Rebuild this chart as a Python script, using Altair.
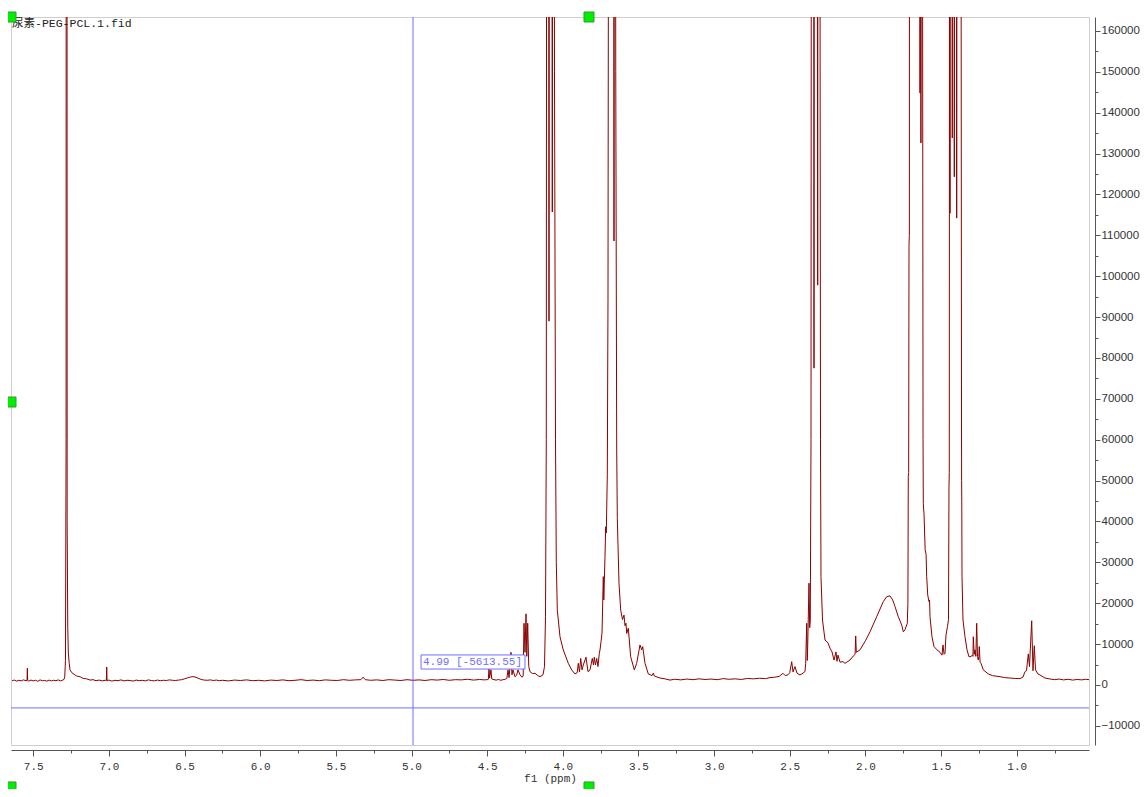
import altair as alt
import pandas as pd

# ---------------- values ----------------
title_text = "尿素-PEG-PCL.1.fid"
axis_title = "f1 (ppm)"

# spectrum: chemical shift (ppm) and intensity, region by region
ppm_left = [7.640, 7.625, 7.610, 7.595, 7.580, 7.565, 7.548, 7.541, 7.539, 7.537,
            7.530, 7.515, 7.500, 7.485, 7.470, 7.455, 7.440, 7.425, 7.410, 7.395,
            7.380, 7.365, 7.350, 7.335, 7.320, 7.305, 7.297, 7.292, 7.287, 7.283,
            7.280, 7.276, 7.272, 7.268, 7.262, 7.257, 7.245, 7.230, 7.213, 7.190,
            7.170, 7.147, 7.125, 7.105, 7.085, 7.065, 7.045, 7.025, 7.017, 7.0145,
            7.012, 7.000, 6.980, 6.960, 6.940, 6.920, 6.900, 6.880, 6.860, 6.840,
            6.820, 6.800, 6.780, 6.760, 6.740, 6.720, 6.700, 6.680, 6.660, 6.640,
            6.620, 6.600, 6.580, 6.560, 6.540, 6.520, 6.500, 6.480, 6.460, 6.445,
            6.430, 6.410, 6.390, 6.370, 6.350, 6.330, 6.310, 6.290, 6.270, 6.250]
int_left = [1050, 1200, 950, 1150, 1000, 1250, 1050, 1150, 4100, 1100,
            950, 1200, 1000, 1150, 900, 1250, 1050, 1100, 950, 1200,
            1000, 1150, 1050, 1250, 1000, 1200, 1350, 2000, 6000, 60000,
            900000, 40000, 14000, 7800, 5200, 3700, 3000, 2600, 2200, 2000,
            1600, 1500, 1200, 1300, 1050, 1200, 1000, 1150, 1100, 4400,
            1050, 1200, 950, 1150, 1050, 1250, 1000, 1150, 1100, 950,
            1200, 1050, 1150, 1000, 1250, 1100, 1000, 1200, 1050, 1150,
            1100, 1250, 1150, 1100, 1200, 1300, 1500, 1750, 1950, 2050,
            1950, 1650, 1350, 1200, 1150, 1250, 1100, 1200, 1050, 1150]

ppm_mid = [6.21, 6.17, 6.13, 6.09, 6.05, 6.01, 5.97, 5.93, 5.89, 5.85,
           5.81, 5.77, 5.73, 5.69, 5.65, 5.61, 5.57, 5.53, 5.49, 5.45,
           5.41, 5.37, 5.335, 5.32, 5.305, 5.27, 5.23, 5.19, 5.15, 5.11,
           5.07, 5.03, 4.99, 4.95, 4.91, 4.87, 4.83, 4.79, 4.75, 4.71,
           4.67, 4.63, 4.59, 4.55, 4.52, 4.50]
int_mid = [1000, 1200, 1100, 1250, 1050, 1150, 1000, 1200, 1100, 1250,
           1050, 1150, 1300, 1100, 1200, 1050, 1250, 1150, 1100, 1300,
           1150, 1250, 1300, 1900, 1300, 1150, 1250, 1100, 1300, 1200,
           1100, 1300, 1150, 1250, 1100, 1300, 1200, 1350, 1150, 1300,
           1250, 1400, 1200, 1350, 1250, 1300]

ppm_pcl = [4.492, 4.4878, 4.484, 4.4746, 4.470, 4.455, 4.440, 4.425, 4.410, 4.395,
           4.380, 4.370, 4.3622, 4.355, 4.3424, 4.336, 4.3291, 4.3159, 4.305, 4.2961,
           4.2829, 4.2697, 4.262, 4.2564, 4.2498, 4.2432, 4.2380, 4.2320, 4.2250, 4.2168,
           4.200, 4.1837, 4.1650, 4.1507, 4.1309, 4.1210, 4.1143, 4.1091, 4.1044, 4.0960,
           4.0912, 4.0860, 4.0760, 4.0694, 4.0640, 4.0580, 4.0549, 4.0482, 4.0430, 4.0363,
           4.0185, 3.9967, 3.9636, 3.9412, 3.9194, 3.9050, 3.8975, 3.8896, 3.8817, 3.8731,
           3.8645, 3.8467, 3.8334, 3.8202, 3.8050, 3.7971, 3.7918, 3.7839, 3.7759, 3.7674,
           3.7588, 3.7541, 3.7475, 3.7409, 3.7323, 3.7290, 3.7211, 3.7164, 3.7125, 3.7059,
           3.7013, 3.6946, 3.6880, 3.6748, 3.6660, 3.6616, 3.6580, 3.6500, 3.6437, 3.6398,
           3.6286, 3.6173, 3.6054, 3.5955, 3.5889, 3.5823, 3.5777, 3.5671, 3.5513, 3.5274,
           3.5116, 3.4898, 3.4785, 3.4719, 3.4567, 3.4349, 3.4100, 3.4018, 3.3950, 3.3576,
           3.3250, 3.2915]
int_pcl = [1400, 4000, 1700, 3700, 1500, 1300, 1200, 1350, 1150, 1300,
           1400, 1600, 3700, 1800, 8000, 2500, 3700, 2000, 2400, 3700,
           2500, 1900, 2200, 15100, 8000, 17400, 7000, 15100, 4500, 3250,
           2800, 2860, 2300, 2030, 2500, 4500, 16700, 60000, 400000, 400000,
           89000, 400000, 400000, 115700, 400000, 250000, 150000, 60000, 30000, 18300,
           11800, 8560, 5300, 3670, 2700, 3000, 5300, 3200, 6500, 3700,
           4900, 6800, 3250, 3700, 6500, 4900, 6800, 4900, 6500, 4500,
           7750, 8560, 10600, 12700, 26500, 20800, 31400, 38700, 37200, 51400,
           94000, 300000, 600000, 700000, 500000, 108600, 400000, 150000, 57500, 40900,
           24900, 18300, 16000, 17100, 14500, 15100, 12600, 13900, 6900, 3700,
           5300, 9800, 8600, 9400, 5300, 2700, 2300, 2900, 2200, 1700,
           1500, 1200]

ppm_ch2 = [3.26, 3.22, 3.18, 3.14, 3.10, 3.06, 3.02, 2.98, 2.94, 2.90,
           2.86, 2.82, 2.78, 2.74, 2.70, 2.66, 2.6305, 2.60, 2.57, 2.5446,
           2.53, 2.5116, 2.500, 2.4871, 2.4785, 2.4653, 2.4521, 2.4322, 2.4124, 2.3992,
           2.3946, 2.3880, 2.3840, 2.3814, 2.3728, 2.3681, 2.3642, 2.3595, 2.3529, 2.3440,
           2.3397, 2.3350, 2.3265, 2.3153, 2.3100, 2.3030, 2.2968, 2.2935, 2.2835, 2.2670,
           2.2472, 2.2340, 2.2207, 2.2075, 2.1943, 2.1877, 2.1811, 2.1679, 2.1480, 2.1348,
           2.1018, 2.0800, 2.0680, 2.0641, 2.0600, 2.0357, 2.0000, 1.9696, 1.9253, 1.8817,
           1.8592, 1.8374, 1.8196, 1.8043, 1.7826, 1.7601, 1.7495, 1.7383, 1.7231]
int_ch2 = [1400, 1250, 1450, 1300, 1500, 1350, 1450, 1300, 1550, 1400,
           1500, 1350, 1600, 1500, 1650, 1550, 1800, 1900, 2100, 2860,
           2300, 2500, 3000, 5700, 3200, 4500, 2900, 2450, 2900, 3300,
           5300, 15100, 6000, 9400, 24900, 14000, 15900, 60000, 500000, 500000,
           77500, 500000, 500000, 97800, 500000, 300000, 60000, 26500, 15900, 11000,
           10300, 9000, 8100, 6100, 8100, 5800, 7300, 5600, 5700, 5300,
           6100, 7100, 7500, 12000, 8000, 8600, 10800, 13000, 16700, 20400,
           21600, 21800, 20800, 19200, 16700, 14700, 13000, 13500, 15100]

ppm_right = [1.7190, 1.7165, 1.7140, 1.7118, 1.7095, 1.7060, 1.6900, 1.6700, 1.6500, 1.6420,
             1.6391, 1.6365, 1.6330, 1.6290, 1.6226, 1.6190, 1.6173, 1.6150, 1.6127, 1.6050,
             1.5990, 1.5949, 1.5880, 1.5796, 1.5760, 1.5730, 1.5598, 1.5466, 1.5268, 1.5069,
             1.4937, 1.4871, 1.4800, 1.4739, 1.4673, 1.4574, 1.4508, 1.4475, 1.4455, 1.4430,
             1.4408, 1.4370, 1.4300, 1.4257, 1.4220, 1.4160, 1.4124, 1.4080, 1.4000, 1.3966,
             1.3920, 1.3780, 1.3700, 1.3650, 1.3640, 1.3630, 1.3615, 1.3549, 1.3417, 1.3285,
             1.3153, 1.3021, 1.2921, 1.2890, 1.2868, 1.2810, 1.2756, 1.2700, 1.2644, 1.2590,
             1.2538, 1.2500, 1.2472, 1.2420, 1.2359, 1.2207, 1.1877, 1.1600, 1.1104, 1.0800,
             1.0443, 1.0100, 0.9782, 0.9584, 0.9451, 0.9352, 0.9233, 0.9154, 0.9008, 0.8923,
             0.8837, 0.8757, 0.8600, 0.8460, 0.8129, 0.7799, 0.7500, 0.7200, 0.6900, 0.6600,
             0.6300, 0.6000, 0.5700, 0.5450, 0.5221]
int_right = [20000, 51000, 52000, 107600, 110000, 500000, 400000, 300000, 400000, 500000,
             144800, 400000, 132600, 450000, 200000, 60000, 44400, 43000, 42000, 33000,
             32000, 26500, 22000, 20400, 20800, 16700, 11800, 9400, 8600, 8000,
             7300, 9800, 7500, 7750, 12200, 14300, 16000, 48400, 52000, 300000,
             115400, 400000, 400000, 133800, 400000, 400000, 124300, 400000, 400000, 114200,
             400000, 300000, 300000, 73400, 50000, 44800, 26500, 15900, 11800, 8600,
             6900, 7000, 7300, 7000, 11800, 7500, 8600, 7000, 15100, 7000,
             6100, 7000, 9400, 5600, 5300, 3700, 2700, 2300, 2030, 1800,
             1700, 1600, 1550, 1950, 3250, 3500, 7600, 4500, 15700, 3500,
             9600, 3700, 2700, 2450, 1700, 1470, 1300, 1450, 1250, 1400,
             1200, 1350, 1250, 1400, 1300]

# axes
x_domain = [0.5221, 7.6471]
y_domain = [-14680, 163400]
x_major = [7.5, 7.0, 6.5, 6.0, 5.5, 5.0, 4.5, 4.0, 3.5, 3.0, 2.5, 2.0, 1.5, 1.0]
x_minor = [7.25, 6.75, 6.25, 5.75, 5.25, 4.75, 4.25, 3.75, 3.25, 2.75, 2.25, 1.75, 1.25, 0.75]
y_major = [-10000, 0, 10000, 20000, 30000, 40000, 50000, 60000, 70000, 80000, 90000,
           100000, 110000, 120000, 130000, 140000, 150000, 160000]
y_minor = [-5000, 5000, 15000, 25000, 35000, 45000, 55000, 65000, 75000, 85000, 95000,
           105000, 115000, 125000, 135000, 145000, 155000]

# cursor read-out
cursor_ppm = [4.99]
cursor_value = [-5613.55]
cursor_label = ["4.99 [-5613.55]"]
label_ppm = [4.924]
label_value = [5600]
label_box_ppm = [4.937, 4.250]
label_box_value = [3900, 7350]

# green selection handles
handle_ppm = [7.6471, 3.8268, 7.6471, 7.6471, 3.8268]
handle_value = [163400, 163400, 69220, -24950, -24950]

# ---------------- build the chart ----------------
spec = pd.DataFrame({
    "ppm": ppm_left + ppm_mid + ppm_pcl + ppm_ch2 + ppm_right,
    "intensity": int_left + int_mid + int_pcl + int_ch2 + int_right,
})
cursor = pd.DataFrame({"ppm": cursor_ppm, "intensity": cursor_value})
label = pd.DataFrame({"ppm": label_ppm, "intensity": label_value, "text": cursor_label})
box = pd.DataFrame({"ppm": [label_box_ppm[0]], "ppm2": [label_box_ppm[1]],
                    "intensity": [label_box_value[0]], "intensity2": [label_box_value[1]]})
handles = pd.DataFrame({"ppm": handle_ppm, "intensity": handle_value})

MONO = "'Liberation Mono', 'Noto Sans CJK SC'"
SANS = "'Liberation Sans'"
DARK = "#8b0000"
BLUE = "#6f6fff"
AXC = "#555555"

xs = alt.Scale(domain=x_domain, reverse=True, nice=False, zero=False)
ys = alt.Scale(domain=y_domain, nice=False, zero=False)

x_main_axis = alt.Axis(values=x_major, format=".1f", orient="bottom", offset=5,
                       tickSize=6, tickColor=AXC, domainColor=AXC, grid=False,
                       labelFont=MONO, labelFontSize=11, labelColor="#333333",
                       labelPadding=4, labelFlush=False,
                       title=axis_title, titleFont=MONO, titleFontSize=11,
                       titleFontWeight="normal", titleColor="#333333", titlePadding=1)
y_main_axis = alt.Axis(values=y_major, format="d", orient="right", offset=6,
                       tickSize=5, tickColor=AXC, domainColor=AXC, grid=False,
                       labelFont=SANS, labelFontSize=11.5, labelColor="#333333",
                       labelPadding=1, labelFlush=False, title="")
x_minor_axis = alt.Axis(values=x_minor, orient="bottom", offset=5, tickSize=3,
                        tickColor=AXC, domain=False, labels=False, grid=False, title="")
y_minor_axis = alt.Axis(values=y_minor, orient="right", offset=6, tickSize=3,
                        tickColor=AXC, domain=False, labels=False, grid=False, title="")

line = alt.Chart(spec).mark_line(color=DARK, strokeWidth=1, clip=True).encode(
    x=alt.X("ppm:Q", scale=xs, axis=x_main_axis),
    y=alt.Y("intensity:Q", scale=ys, axis=y_main_axis),
)

vrule = alt.Chart(cursor).mark_rule(color=BLUE, strokeWidth=1).encode(
    x=alt.X("ppm:Q", scale=xs, axis=x_minor_axis),
)
hrule = alt.Chart(cursor).mark_rule(color=BLUE, strokeWidth=1).encode(
    y=alt.Y("intensity:Q", scale=ys, axis=y_minor_axis),
)

label_rect = alt.Chart(box).mark_rect(fill="white", stroke=BLUE, strokeWidth=1).encode(
    x=alt.X("ppm:Q", scale=xs, axis=None),
    x2="ppm2:Q",
    y=alt.Y("intensity:Q", scale=ys, axis=None),
    y2="intensity2:Q",
)
label_text = alt.Chart(label).mark_text(align="left", baseline="middle", font=MONO,
                                        fontSize=11, color=BLUE).encode(
    x=alt.X("ppm:Q", scale=xs, axis=None),
    y=alt.Y("intensity:Q", scale=ys, axis=None),
    text="text:N",
)

title = alt.Chart(pd.DataFrame({"t": [title_text]})).mark_text(
    align="left", baseline="middle", font=MONO, fontSize=11.5, color="#222222"
).encode(x=alt.value(1), y=alt.value(7), text="t:N")

handle_marks = alt.Chart(handles).mark_square(size=100, fill="#00ee00", stroke="#2f9a2f",
                                              strokeWidth=1, opacity=1, clip=False).encode(
    x=alt.X("ppm:Q", scale=xs, axis=None),
    y=alt.Y("intensity:Q", scale=ys, axis=None),
)

chart = alt.layer(line, vrule, hrule, label_rect, label_text, title, handle_marks).resolve_scale(
    x="shared", y="shared"
).resolve_axis(
    x="independent", y="independent"
).properties(
    width=1078, height=728,
    autosize=alt.AutoSizeParams(type="none"),
    padding={"left": 3, "top": 9, "right": 51, "bottom": 44},
    background="white",
).configure_view(stroke="#cfcfcf", strokeWidth=1)

chart.save("out.html", embed_options={"renderer": "svg", "actions": False})
